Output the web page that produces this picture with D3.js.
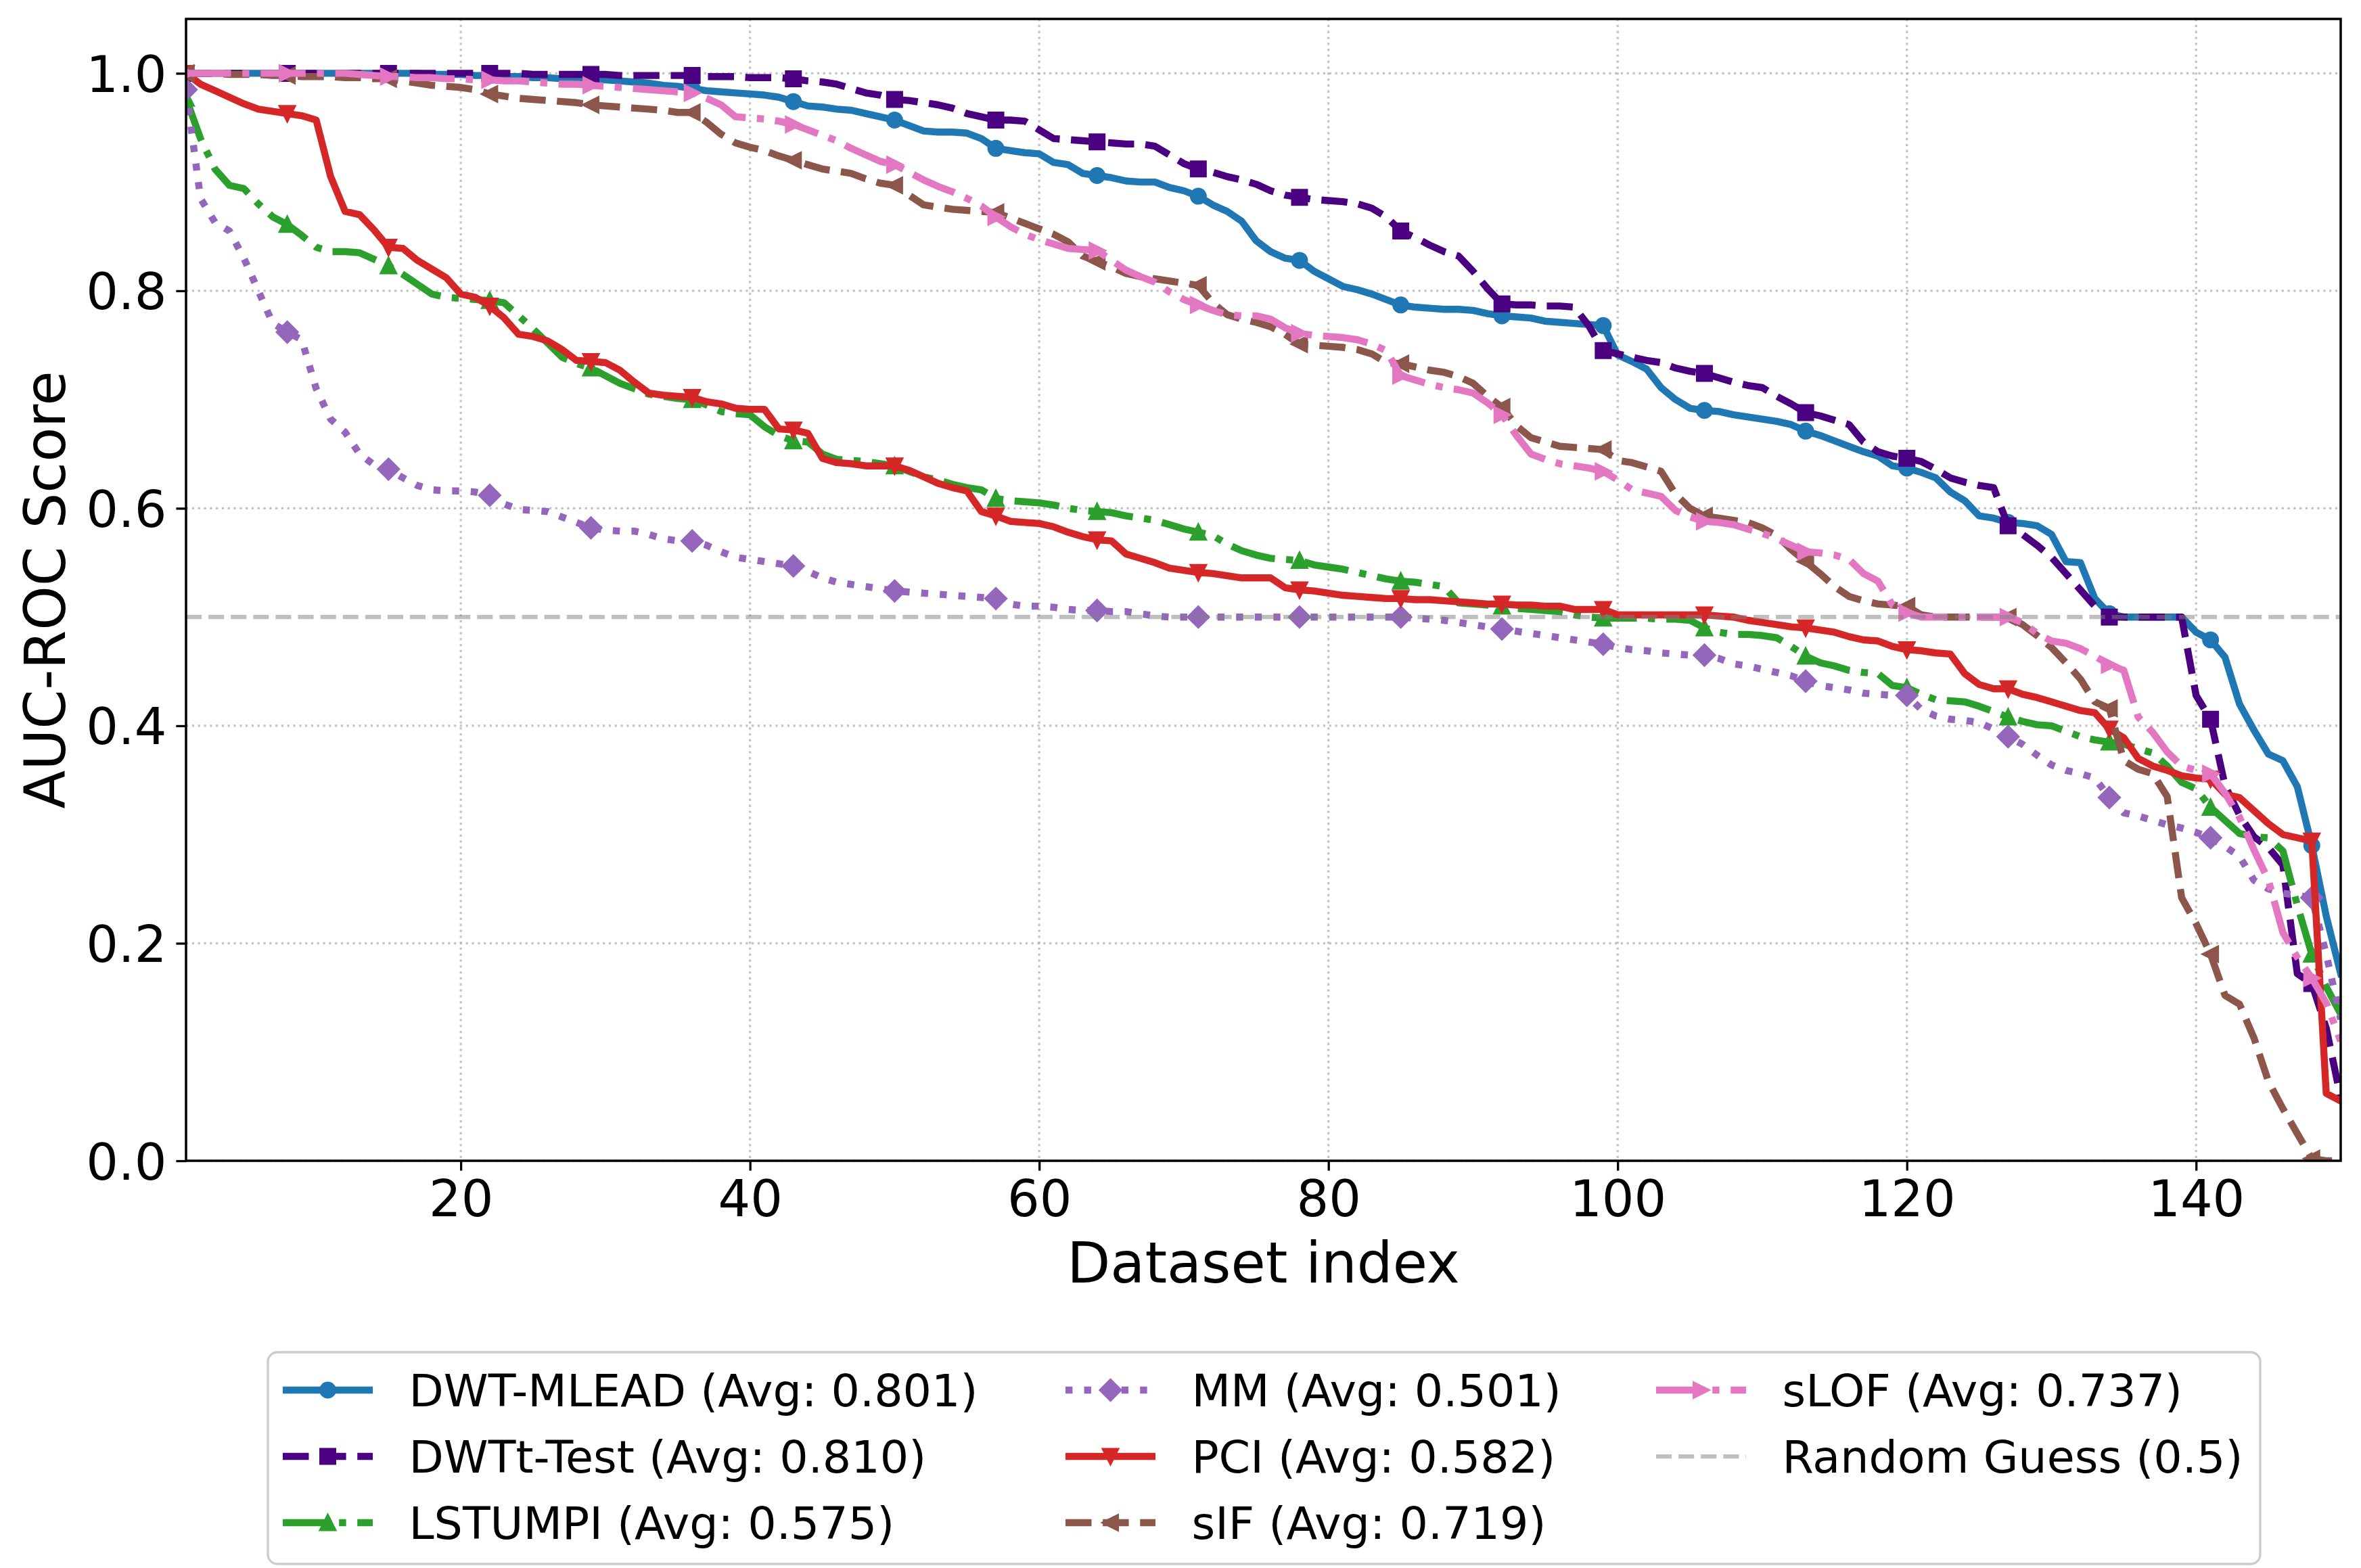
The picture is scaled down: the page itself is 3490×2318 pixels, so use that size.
<!DOCTYPE html>
<html>
<head>
<meta charset="utf-8">
<script src="https://cdn.jsdelivr.net/npm/d3@7"></script>
<style>
  html, body { margin: 0; padding: 0; background: #fff; }
  text { font-family: "DejaVu Sans", sans-serif; fill: #000; }
</style>
</head>
<body>
<div id="chart"></div>
<script>
// values per method, dataset index 1..150 (sorted descending)
const dwtMlead = [
  1.000,1.000,1.000,1.000,1.000,1.000,1.000,1.000,1.000,1.000,
  1.000,1.000,1.000,1.000,1.000,1.000,1.000,0.999,0.999,0.999,
  0.998,0.998,0.997,0.997,0.996,0.996,0.995,0.995,0.994,0.994,
  0.993,0.992,0.991,0.989,0.988,0.986,0.984,0.983,0.982,0.981,
  0.980,0.978,0.974,0.970,0.969,0.967,0.966,0.963,0.960,0.957,
  0.952,0.947,0.946,0.946,0.945,0.940,0.931,0.929,0.927,0.926,
  0.918,0.916,0.908,0.906,0.904,0.901,0.900,0.900,0.895,0.892,
  0.887,0.879,0.873,0.864,0.846,0.836,0.830,0.828,0.818,0.811,
  0.804,0.801,0.797,0.792,0.787,0.785,0.784,0.783,0.783,0.782,
  0.779,0.777,0.776,0.775,0.772,0.771,0.770,0.769,0.768,0.741,
  0.735,0.728,0.711,0.700,0.692,0.690,0.689,0.686,0.684,0.682,
  0.680,0.677,0.671,0.667,0.662,0.657,0.652,0.648,0.639,0.637,
  0.633,0.628,0.615,0.607,0.593,0.591,0.587,0.586,0.584,0.576,
  0.551,0.550,0.517,0.503,0.500,0.500,0.500,0.500,0.500,0.486,
  0.479,0.463,0.420,0.396,0.374,0.368,0.344,0.290,0.225,0.172
];
const dwtTTest = [
  1.000,1.000,1.000,1.000,1.000,1.000,1.000,1.000,1.000,1.000,
  1.000,1.000,1.000,1.000,1.000,1.000,1.000,1.000,1.000,1.000,
  1.000,1.000,1.000,1.000,0.999,0.999,0.999,0.999,0.999,0.999,
  0.998,0.998,0.998,0.998,0.998,0.998,0.997,0.997,0.997,0.996,
  0.996,0.996,0.995,0.993,0.992,0.990,0.986,0.982,0.980,0.976,
  0.975,0.973,0.971,0.968,0.963,0.960,0.957,0.957,0.956,0.948,
  0.940,0.939,0.938,0.937,0.936,0.935,0.935,0.933,0.925,0.917,
  0.912,0.909,0.905,0.902,0.898,0.892,0.888,0.886,0.884,0.883,
  0.882,0.880,0.876,0.868,0.855,0.849,0.842,0.836,0.832,0.818,
  0.802,0.788,0.787,0.787,0.786,0.786,0.785,0.768,0.745,0.742,
  0.739,0.736,0.734,0.729,0.726,0.724,0.720,0.716,0.713,0.711,
  0.703,0.696,0.688,0.685,0.681,0.677,0.661,0.652,0.648,0.646,
  0.643,0.636,0.628,0.624,0.621,0.619,0.584,0.576,0.566,0.555,
  0.540,0.525,0.510,0.500,0.500,0.500,0.500,0.500,0.500,0.428,
  0.406,0.345,0.318,0.298,0.288,0.272,0.172,0.163,0.122,0.058
];
const lstumpi = [
  0.977,0.940,0.912,0.897,0.894,0.880,0.868,0.861,0.851,0.840,
  0.836,0.836,0.835,0.829,0.823,0.815,0.806,0.797,0.794,0.793,
  0.792,0.791,0.789,0.777,0.765,0.752,0.739,0.733,0.729,0.722,
  0.715,0.710,0.705,0.703,0.701,0.700,0.695,0.689,0.687,0.686,
  0.675,0.667,0.662,0.661,0.650,0.645,0.644,0.643,0.641,0.639,
  0.634,0.629,0.626,0.622,0.619,0.617,0.609,0.607,0.606,0.605,
  0.603,0.600,0.598,0.597,0.596,0.593,0.591,0.589,0.585,0.581,
  0.578,0.575,0.567,0.561,0.557,0.554,0.553,0.552,0.548,0.546,
  0.544,0.541,0.538,0.535,0.533,0.532,0.530,0.528,0.513,0.512,
  0.511,0.510,0.508,0.507,0.506,0.505,0.502,0.500,0.499,0.499,
  0.499,0.499,0.498,0.498,0.497,0.490,0.486,0.484,0.484,0.483,
  0.481,0.473,0.464,0.458,0.455,0.451,0.449,0.448,0.437,0.435,
  0.429,0.424,0.423,0.422,0.418,0.413,0.408,0.404,0.401,0.400,
  0.395,0.390,0.387,0.385,0.383,0.379,0.375,0.363,0.348,0.342,
  0.325,0.313,0.301,0.298,0.297,0.285,0.235,0.190,0.160,0.135
];
const mm = [
  0.985,0.885,0.863,0.855,0.830,0.800,0.770,0.762,0.755,0.710,
  0.682,0.670,0.650,0.640,0.636,0.628,0.621,0.617,0.616,0.616,
  0.615,0.612,0.604,0.599,0.598,0.597,0.592,0.587,0.582,0.580,
  0.579,0.579,0.576,0.572,0.570,0.570,0.566,0.560,0.555,0.553,
  0.551,0.549,0.547,0.542,0.536,0.532,0.530,0.528,0.526,0.524,
  0.523,0.522,0.521,0.520,0.519,0.518,0.517,0.512,0.510,0.510,
  0.509,0.507,0.506,0.506,0.505,0.505,0.503,0.501,0.500,0.500,
  0.500,0.500,0.500,0.500,0.500,0.500,0.500,0.500,0.500,0.500,
  0.500,0.500,0.500,0.500,0.500,0.499,0.498,0.497,0.495,0.493,
  0.491,0.489,0.487,0.485,0.483,0.481,0.479,0.477,0.475,0.472,
  0.470,0.469,0.467,0.466,0.465,0.465,0.462,0.457,0.455,0.452,
  0.449,0.446,0.441,0.437,0.435,0.433,0.430,0.429,0.428,0.428,
  0.415,0.409,0.406,0.405,0.403,0.397,0.390,0.383,0.373,0.364,
  0.359,0.356,0.352,0.334,0.320,0.317,0.313,0.309,0.306,0.302,
  0.297,0.289,0.280,0.258,0.250,0.246,0.244,0.242,0.190,0.130
];
const pci = [
  1.000,0.990,0.984,0.978,0.972,0.967,0.965,0.963,0.961,0.957,
  0.905,0.873,0.870,0.856,0.840,0.839,0.828,0.820,0.812,0.797,
  0.794,0.786,0.775,0.760,0.758,0.754,0.746,0.736,0.735,0.734,
  0.727,0.716,0.706,0.704,0.703,0.702,0.698,0.696,0.692,0.691,
  0.691,0.673,0.672,0.669,0.646,0.642,0.641,0.639,0.639,0.639,
  0.635,0.629,0.623,0.619,0.616,0.597,0.593,0.588,0.587,0.586,
  0.583,0.578,0.574,0.571,0.570,0.558,0.554,0.550,0.545,0.543,
  0.541,0.540,0.538,0.536,0.536,0.536,0.527,0.525,0.524,0.522,
  0.520,0.519,0.518,0.517,0.517,0.516,0.516,0.515,0.514,0.513,
  0.512,0.512,0.511,0.511,0.510,0.510,0.507,0.507,0.507,0.502,
  0.502,0.502,0.502,0.502,0.502,0.502,0.501,0.500,0.497,0.495,
  0.493,0.491,0.490,0.488,0.486,0.482,0.479,0.478,0.473,0.470,
  0.469,0.467,0.466,0.448,0.438,0.434,0.434,0.429,0.426,0.422,
  0.418,0.414,0.412,0.397,0.389,0.370,0.363,0.359,0.354,0.352,
  0.351,0.337,0.334,0.322,0.310,0.300,0.297,0.294,0.062,0.055
];
const sif = [
  1.000,1.000,1.000,0.999,0.999,0.999,0.998,0.998,0.997,0.997,
  0.997,0.996,0.996,0.995,0.995,0.993,0.991,0.989,0.988,0.987,
  0.985,0.981,0.979,0.977,0.976,0.975,0.974,0.973,0.971,0.970,
  0.969,0.968,0.967,0.966,0.964,0.964,0.955,0.944,0.936,0.932,
  0.929,0.924,0.920,0.916,0.912,0.910,0.908,0.903,0.899,0.897,
  0.888,0.879,0.877,0.875,0.874,0.873,0.872,0.867,0.862,0.857,
  0.852,0.845,0.832,0.827,0.822,0.816,0.813,0.811,0.809,0.807,
  0.805,0.789,0.778,0.774,0.771,0.767,0.760,0.751,0.750,0.749,
  0.748,0.746,0.742,0.734,0.733,0.730,0.727,0.725,0.721,0.715,
  0.703,0.693,0.676,0.665,0.661,0.657,0.656,0.655,0.654,0.644,
  0.642,0.638,0.634,0.613,0.600,0.593,0.591,0.589,0.587,0.582,
  0.575,0.562,0.551,0.540,0.528,0.519,0.515,0.512,0.511,0.510,
  0.502,0.500,0.500,0.500,0.500,0.500,0.500,0.493,0.483,0.472,
  0.458,0.443,0.422,0.416,0.368,0.360,0.356,0.335,0.242,0.218,
  0.190,0.152,0.144,0.113,0.073,0.048,0.025,0.002,0.000,0.000
];
const slof = [
  1.000,1.000,1.000,1.000,1.000,1.000,1.000,1.000,1.000,1.000,
  1.000,1.000,0.999,0.998,0.997,0.997,0.996,0.996,0.995,0.995,
  0.994,0.994,0.993,0.993,0.992,0.991,0.990,0.990,0.989,0.988,
  0.987,0.986,0.985,0.984,0.983,0.982,0.977,0.971,0.960,0.959,
  0.958,0.956,0.953,0.948,0.943,0.938,0.931,0.925,0.919,0.916,
  0.909,0.902,0.896,0.891,0.885,0.878,0.868,0.859,0.852,0.847,
  0.843,0.839,0.838,0.837,0.828,0.819,0.813,0.808,0.799,0.792,
  0.787,0.782,0.778,0.777,0.777,0.774,0.766,0.761,0.759,0.758,
  0.757,0.755,0.751,0.745,0.722,0.718,0.714,0.711,0.709,0.706,
  0.697,0.686,0.667,0.650,0.645,0.641,0.639,0.637,0.634,0.626,
  0.617,0.614,0.611,0.598,0.592,0.588,0.587,0.585,0.581,0.577,
  0.572,0.566,0.560,0.559,0.557,0.553,0.540,0.533,0.511,0.504,
  0.500,0.500,0.500,0.500,0.500,0.500,0.500,0.495,0.485,0.478,
  0.476,0.471,0.464,0.456,0.451,0.408,0.394,0.376,0.363,0.359,
  0.356,0.338,0.316,0.286,0.258,0.210,0.187,0.168,0.145,0.110
];

const methodNames = ["DWT-MLEAD", "DWTt-Test", "LSTUMPI", "MM", "PCI", "sIF", "sLOF"];
const methodAvg = ["0.801", "0.810", "0.575", "0.501", "0.582", "0.719", "0.737"];
const methodValues = [dwtMlead, dwtTTest, lstumpi, mm, pci, sif, slof];
const randomGuess = 0.5;

const xTicks = [20, 40, 60, 80, 100, 120, 140];
const yTicks = [0.0, 0.2, 0.4, 0.6, 0.8, 1.0];

// line styles (matplotlib-like, linewidth 2.5pt at 300dpi)
const lw = 10.4;
const dashStyles = {
  solid: null,
  dashed: [3.7 * lw, 1.6 * lw],
  dashdot: [6.4 * lw, 1.6 * lw, 1 * lw, 1.6 * lw],
  dotted: [1 * lw, 1.65 * lw]
};
const styles = [
  { color: "#1f77b4", dash: "solid",   marker: "circle" },
  { color: "#4b0082", dash: "dashed",  marker: "square" },
  { color: "#2ca02c", dash: "dashdot", marker: "triUp" },
  { color: "#9467bd", dash: "dotted",  marker: "diamond" },
  { color: "#d62728", dash: "solid",   marker: "triDown" },
  { color: "#8c564b", dash: "dashed",  marker: "triLeft" },
  { color: "#e377c2", dash: "dashdot", marker: "triRight" }
];

const width = 3490, height = 2318;
const plot = { left: 275, right: 3460, top: 28, bottom: 1716 };

const svg = d3.select("#chart").append("svg")
  .attr("width", width)
  .attr("height", height);

svg.append("rect").attr("width", width).attr("height", height).attr("fill", "#fff");

const x = d3.scaleLinear().domain([1, 150]).range([plot.left, plot.right]);
const y = d3.scaleLinear().domain([0, 1.05]).range([plot.bottom, plot.top]);

svg.append("defs").append("clipPath").attr("id", "clip")
  .append("rect")
  .attr("x", plot.left).attr("y", plot.top)
  .attr("width", plot.right - plot.left)
  .attr("height", plot.bottom - plot.top);

// grid
const grid = svg.append("g");
grid.selectAll(".vg").data(xTicks).enter().append("line")
  .attr("x1", d => x(d)).attr("x2", d => x(d))
  .attr("y1", plot.top).attr("y2", plot.bottom)
  .attr("stroke", "#b0b0b0").attr("stroke-opacity", 0.75)
  .attr("stroke-width", 3.3).attr("stroke-dasharray", "3.3,5.5");
grid.selectAll(".hg").data(yTicks).enter().append("line")
  .attr("x1", plot.left).attr("x2", plot.right)
  .attr("y1", d => y(d)).attr("y2", d => y(d))
  .attr("stroke", "#b0b0b0").attr("stroke-opacity", 0.75)
  .attr("stroke-width", 3.3).attr("stroke-dasharray", "3.3,5.5");

// marker path builder
function markerPath(type) {
  const h = 10.4;
  switch (type) {
    case "circle": return d3.symbol(d3.symbolCircle, Math.PI * h * h)();
    case "square": return `M${-h},${-h}H${h}V${h}H${-h}Z`;
    case "triUp": return `M0,${-h}L${h},${h}L${-h},${h}Z`;
    case "triDown": return `M0,${h}L${h},${-h}L${-h},${-h}Z`;
    case "triLeft": return `M${-h},0L${h},${-h}L${h},${h}Z`;
    case "triRight": return `M${h},0L${-h},${-h}L${-h},${h}Z`;
    case "diamond": { const r = h * Math.SQRT2; return `M0,${-r}L${r},0L0,${r}L${-r},0Z`; }
  }
}

const line = d3.line()
  .x((d, i) => x(i + 1))
  .y(d => y(d));

const lines = svg.append("g").attr("clip-path", "url(#clip)");

methodValues.forEach((vals, k) => {
  const st = styles[k];
  const g = lines.append("g");
  g.append("path")
    .datum(vals)
    .attr("d", line)
    .attr("fill", "none")
    .attr("stroke", st.color)
    .attr("stroke-width", lw)
    .attr("stroke-linejoin", "round")
    .attr("stroke-linecap", st.dash === "solid" ? "square" : "butt")
    .attr("stroke-dasharray", dashStyles[st.dash] ? dashStyles[st.dash].join(",") : null);

  // markers every 7th point
  const marks = vals.map((v, i) => ({ i: i, v: v })).filter(d => d.i % 7 === 0);
  g.selectAll(".mk").data(marks).enter().append("path")
    .attr("d", markerPath(st.marker))
    .attr("transform", d => `translate(${x(d.i + 1)},${y(d.v)})`)
    .attr("fill", st.color)
    .attr("stroke", st.color)
    .attr("stroke-width", 4.2)
    .attr("stroke-linejoin", "miter");
});

// random guess reference
lines.append("line")
  .attr("x1", x(1)).attr("x2", x(150))
  .attr("y1", y(randomGuess)).attr("y2", y(randomGuess))
  .attr("stroke", "#808080").attr("stroke-opacity", 0.5)
  .attr("stroke-width", 6.25)
  .attr("stroke-dasharray", "23.1,10");

// axes
const xAxis = svg.append("g")
  .attr("transform", `translate(0,${plot.bottom})`)
  .call(d3.axisBottom(x).tickValues(xTicks).tickSize(14.6).tickPadding(14).tickFormat(d3.format("d")));
const yAxis = svg.append("g")
  .attr("transform", `translate(${plot.left},0)`)
  .call(d3.axisLeft(y).tickValues(yTicks).tickSize(14.6).tickPadding(14).tickFormat(d3.format(".1f")));

[xAxis, yAxis].forEach(a => {
  a.select(".domain").remove();
  a.selectAll(".tick line").attr("stroke", "#000").attr("stroke-width", 3.3);
  a.selectAll(".tick text").attr("font-size", 75).attr("font-family", "DejaVu Sans").attr("fill", "#000");
});
yAxis.selectAll(".tick text").attr("dy", "0.36em");

// spines
svg.append("rect")
  .attr("x", plot.left).attr("y", plot.top)
  .attr("width", plot.right - plot.left)
  .attr("height", plot.bottom - plot.top)
  .attr("fill", "none").attr("stroke", "#000").attr("stroke-width", 3.5);

// axis labels
svg.append("text")
  .attr("x", (plot.left + plot.right) / 2).attr("y", 1896)
  .attr("text-anchor", "middle").attr("font-size", 83.3)
  .text("Dataset index");
svg.append("text")
  .attr("transform", `translate(96,${(plot.top + plot.bottom) / 2}) rotate(-90)`)
  .attr("text-anchor", "middle").attr("font-size", 83.3)
  .text("AUC-ROC Score");

// legend
const legendEntries = methodNames.map((n, k) => ({
  label: `${n} (Avg: ${methodAvg[k]})`, style: styles[k], ref: false
}));
legendEntries.push({ label: `Random Guess (${randomGuess})`, ref: true });

const legend = svg.append("g");
legend.append("rect")
  .attr("x", 396).attr("y", 1999)
  .attr("width", 2945).attr("height", 313)
  .attr("rx", 14).attr("ry", 14)
  .attr("fill", "#fff").attr("fill-opacity", 0.8)
  .attr("stroke", "#cccccc").attr("stroke-width", 3.3);

const colX = [418, 1575, 2448];
const rowY = [2055, 2153, 2251];
const handleLen = 133;

legendEntries.forEach((e, k) => {
  const c = Math.floor(k / 3), r = k % 3;
  const x0 = colX[c], yc = rowY[r];
  const item = legend.append("g");
  if (e.ref) {
    item.append("line")
      .attr("x1", x0).attr("x2", x0 + handleLen).attr("y1", yc).attr("y2", yc)
      .attr("stroke", "#808080").attr("stroke-opacity", 0.5)
      .attr("stroke-width", 6.25).attr("stroke-dasharray", "23.1,10");
  } else {
    const st = e.style;
    item.append("line")
      .attr("x1", x0).attr("x2", x0 + handleLen).attr("y1", yc).attr("y2", yc)
      .attr("stroke", st.color).attr("stroke-width", lw)
      .attr("stroke-linecap", "butt")
      .attr("stroke-dasharray", dashStyles[st.dash] ? dashStyles[st.dash].join(",") : null);
    item.append("path")
      .attr("d", markerPath(st.marker))
      .attr("transform", `translate(${x0 + handleLen / 2},${yc})`)
      .attr("fill", st.color).attr("stroke", st.color).attr("stroke-width", 4.2);
  }
  item.append("text")
    .attr("x", x0 + handleLen + 53.4).attr("y", yc)
    .attr("dy", "0.36em")
    .attr("font-size", 66.7)
    .text(e.label);
});
</script>
</body>
</html>
